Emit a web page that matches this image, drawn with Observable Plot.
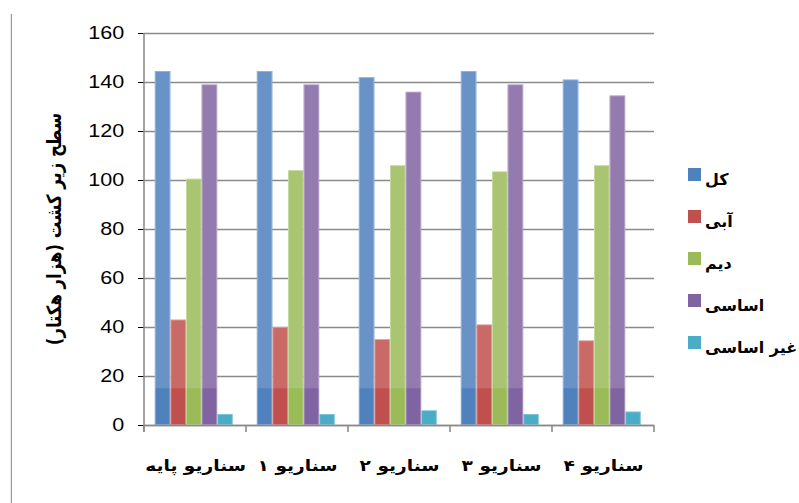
<!DOCTYPE html>
<html>
<head>
<meta charset="utf-8">
<script src="https://cdn.jsdelivr.net/npm/d3@7"></script>
<script src="https://cdn.jsdelivr.net/npm/@observablehq/plot@0.6"></script>
<style>
  html, body { margin: 0; padding: 0; background: #fff; }
  body { width: 799px; height: 503px; overflow: hidden; position: relative; }
  #stage { position: absolute; left: 0; top: 0; width: 666px; height: 503px;
           transform: scaleX(1.2); transform-origin: 0 0; }
  #border { position: absolute; left: 9px; top: 14px; width: 0; height: 489px;
            border-left: 1.4px solid #9a9a9a; }
  #chart { position: absolute; left: 0; top: 0; }
  #chart svg text { font-family: "Liberation Sans", Arial, sans-serif; }
  .fxlab text, .ylab { font-family: "DejaVu Sans", sans-serif !important; font-weight: bold; }
  #legend { position: absolute; left: 688px; top: 166px; font-family: "DejaVu Sans", sans-serif;
            font-weight: bold; font-size: 16px; color: #000; }
  #legend .item { display: flex; align-items: flex-start; height: 42px; white-space: nowrap; }
  #legend .sw { width: 13px; height: 13px; margin-top: 2px; margin-right: 4px; flex: none; }
  #legend .lb { direction: rtl; line-height: 20px; margin-top: 4px; white-space: nowrap; }
</style>
</head>
<body>
<div id="stage">
  <div id="border"></div>
  <div id="chart"></div>
</div>
<div id="legend"></div>
<script>
// ---- data ----
const scenarios = ["سناریو پایه", "سناریو ۱", "سناریو ۲", "سناریو ۳", "سناریو ۴"];
const seriesNames = ["کل", "آبی", "دیم", "اساسی", "غیر اساسی"];
const total     = [144.5, 144.5, 142, 144.5, 141];
const irrigated = [43, 40, 35, 41, 34.5];
const rainfed   = [100.5, 104, 106, 103.5, 106];
const basic     = [139, 139, 136, 139, 134.5];
const nonBasic  = [4.5, 4.5, 6, 4.5, 5.5];
const yTicks = [0, 20, 40, 60, 80, 100, 120, 140, 160];
const yLabel = "سطح زیر کشت (هزار هکتار)";

// ---- styles ----
const colors = ["#4F81BD", "#C0504D", "#9BBB59", "#8064A2", "#4BACC6"];
const BAND = 15; // darker lower band seen in the reference

const seriesValues = [total, irrigated, rainfed, basic, nonBasic];
const data = [];
scenarios.forEach((s, i) => {
  seriesNames.forEach((n, j) => data.push({scenario: s, series: n, value: seriesValues[j][i]}));
});

const W = 666, H = 503;
const plot = Plot.plot({
  width: W, height: H,
  marginLeft: 120, marginRight: 121, marginTop: 33, marginBottom: 78,
  style: {fontSize: "18px", color: "#000", background: "transparent", overflow: "visible"},
  fx: {domain: scenarios, padding: 0, label: null, axis: "bottom", tickSize: 0, tickPadding: 34},
  x: {domain: seriesNames, axis: null, paddingInner: 0, paddingOuter: 0.75, align: 0.45},
  y: {domain: [0, 160], ticks: yTicks, tickSize: 5, tickPadding: 12, label: null, axis: "left"},
  color: {domain: seriesNames, range: colors},
  marks: [
    Plot.gridY(yTicks, {stroke: "#8a8a8a", strokeOpacity: 1, strokeWidth: 1.3}),
    Plot.barY(data, {fx: "scenario", x: "series", y: "value", fill: "series", inset: 0}),
    Plot.barY(data.filter(d => d.value > BAND), {fx: "scenario", x: "series", y1: BAND, y2: "value",
      fill: "white", fillOpacity: 0.15, inset: 0}),
    Plot.barY(data, {fx: "scenario", x: "series", y: "value", fill: "none",
      stroke: "white", strokeOpacity: 0.35, strokeWidth: 0.8, inset: 0.4}),
    Plot.ruleY([0], {stroke: "#8a8a8a", strokeWidth: 1.6})
  ]
});
document.getElementById("chart").appendChild(plot);

// styling of fx labels, re-centred on their bands
d3.select(plot).selectAll('g[aria-label="fx-axis tick label"]').classed("fxlab", true)
  .attr("font-size", "15.5px")
  .selectAll("text").each(function () {
    this.setAttribute("text-anchor", "start");
    this.setAttribute("direction", "ltr");
    this.style.unicodeBidi = "isolate";
    const len = this.getComputedTextLength();
    this.setAttribute("x", -len / 2);
  });

// axis line and group boundary ticks, from Plot's own scales
const svg = d3.select(plot);
const ys = plot.scale("y"), fxs = plot.scale("fx");
const left = 120, right = W - 121;
svg.append("line").attr("x1", left).attr("x2", left)
  .attr("y1", ys.apply(160)).attr("y2", ys.apply(0) + 7)
  .attr("stroke", "#8a8a8a").attr("stroke-width", 1.3);
const step = (right - left) / scenarios.length;
for (let i = 0; i <= scenarios.length; i++) {
  const x = i < scenarios.length ? fxs.apply(scenarios[i]) : fxs.apply(scenarios[i - 1]) + step;
  svg.append("line").attr("x1", x).attr("x2", x)
    .attr("y1", ys.apply(0)).attr("y2", ys.apply(0) + 7)
    .attr("stroke", "#8a8a8a").attr("stroke-width", 1.3);
}
// y label
svg.append("text").attr("class", "ylab")
  .attr("transform", `translate(46,${(ys.apply(0) + ys.apply(160)) / 2}) rotate(-90)`)
  .attr("text-anchor", "middle").attr("dominant-baseline", "middle")
  .attr("direction", "rtl")
  .attr("font-size", "16.5px").attr("font-weight", "bold")
  .style("font-family", "DejaVu Sans, sans-serif")
  .text(yLabel);

// legend
const lg = d3.select("#legend");
seriesNames.forEach((n, i) => {
  const it = lg.append("div").attr("class", "item");
  it.append("div").attr("class", "sw").style("background", colors[i]);
  it.append("div").attr("class", "lb").text(n);
});
</script>
</body>
</html>
